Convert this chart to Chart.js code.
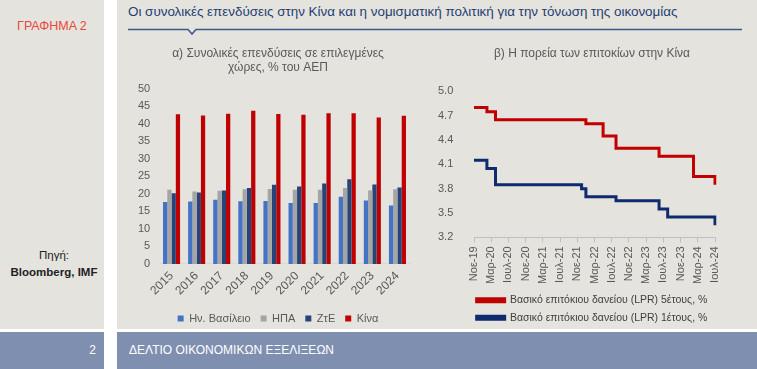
<!DOCTYPE html>
<html>
<head>
<meta charset="utf-8">
<script src="https://cdn.jsdelivr.net/npm/chart.js@4"></script>
<style>
  body { margin: 0; width: 757px; height: 369px; background: #fff; position: relative; overflow: hidden; font-family: "Liberation Sans", Arial, sans-serif; }
  .panel { position: absolute; background: #e5e3de; }
  .foot { position: absolute; background: #7f8fb0; color: #fff; font-size: 12px; line-height: 37px; }
  .box { position: absolute; }
</style>
</head>
<body>
<div class="panel" style="left:0;top:0;width:104px;height:329px"></div>
<div class="panel" style="left:117px;top:0;width:640px;height:329px"></div>
<div style="position:absolute;left:17px;top:19px;color:#e8473b;font-size:12.5px;">ΓΡΑΦΗΜΑ 2</div>
<div style="position:absolute;left:128px;top:4px;color:#1f3f73;font-size:13.4px;">Οι συνολικές επενδύσεις στην Κίνα και η νομισματική πολιτική για την τόνωση της οικονομίας</div>
<svg style="position:absolute;left:0;top:0" width="757" height="40">
  <polyline points="128,29.5 188,29.5 192,34 196,29.5 742,29.5" fill="none" stroke="#3a5a8c" stroke-width="1.5"/>
</svg>
<div style="position:absolute;left:0;top:247px;width:108px;text-align:center;font-size:11.5px;color:#222;line-height:17px;">Πηγή:<br><b style="font-weight:600">Bloomberg, IMF</b></div>
<div class="foot" style="left:0;top:332px;width:104px;height:37px;text-align:right;"><span style="padding-right:8px">2</span></div>
<div class="foot" style="left:117px;top:332px;width:640px;height:37px;"><span style="padding-left:12px">ΔΕΛΤΙΟ ΟΙΚΟΝΟΜΙΚΩΝ ΕΞΕΛΙΞΕΩΝ</span></div>

<div class="box" style="left:124px;top:46px;width:306px;height:288px"><canvas id="invest"></canvas></div>
<div class="box" style="left:430px;top:46px;width:310px;height:287px"><canvas id="rates"></canvas></div>

<script>
const years = ['2015', '2016', '2017', '2018', '2019', '2020', '2021', '2022', '2023', '2024'];
const uk = [17.7, 17.8, 18.3, 17.9, 18.0, 17.4, 17.4, 19.2, 18.1, 16.7];
const usa = [21.2, 20.7, 20.9, 21.3, 21.4, 21.2, 21.2, 21.7, 21.0, 21.3];
const euroArea = [20.2, 20.4, 21.0, 21.7, 22.6, 22.1, 23.0, 24.2, 22.7, 21.8];
const china = [42.7, 42.4, 42.9, 43.7, 42.8, 42.6, 43.0, 43.0, 41.8, 42.3];

const months = [
  'Νοε-19', 'Δεκ-19',
  'Ιαν-20', 'Φεβ-20', 'Μαρ-20', 'Απρ-20', 'Μαϊ-20', 'Ιουν-20', 'Ιουλ-20', 'Αυγ-20', 'Σεπ-20', 'Οκτ-20', 'Νοε-20', 'Δεκ-20',
  'Ιαν-21', 'Φεβ-21', 'Μαρ-21', 'Απρ-21', 'Μαϊ-21', 'Ιουν-21', 'Ιουλ-21', 'Αυγ-21', 'Σεπ-21', 'Οκτ-21', 'Νοε-21', 'Δεκ-21',
  'Ιαν-22', 'Φεβ-22', 'Μαρ-22', 'Απρ-22', 'Μαϊ-22', 'Ιουν-22', 'Ιουλ-22', 'Αυγ-22', 'Σεπ-22', 'Οκτ-22', 'Νοε-22', 'Δεκ-22',
  'Ιαν-23', 'Φεβ-23', 'Μαρ-23', 'Απρ-23', 'Μαϊ-23', 'Ιουν-23', 'Ιουλ-23', 'Αυγ-23', 'Σεπ-23', 'Οκτ-23', 'Νοε-23', 'Δεκ-23',
  'Ιαν-24', 'Φεβ-24', 'Μαρ-24', 'Απρ-24', 'Μαϊ-24', 'Ιουν-24', 'Ιουλ-24'
];
const lpr5y = [
  4.80, 4.80,
  4.80, 4.75, 4.75, 4.65, 4.65, 4.65, 4.65, 4.65, 4.65, 4.65, 4.65, 4.65,
  4.65, 4.65, 4.65, 4.65, 4.65, 4.65, 4.65, 4.65, 4.65, 4.65, 4.65, 4.65,
  4.60, 4.60, 4.60, 4.60, 4.45, 4.45, 4.45, 4.30, 4.30, 4.30, 4.30, 4.30,
  4.30, 4.30, 4.30, 4.30, 4.30, 4.20, 4.20, 4.20, 4.20, 4.20, 4.20, 4.20,
  4.20, 3.95, 3.95, 3.95, 3.95, 3.95, 3.85
];
const lpr1y = [
  4.15, 4.15,
  4.15, 4.05, 4.05, 3.85, 3.85, 3.85, 3.85, 3.85, 3.85, 3.85, 3.85, 3.85,
  3.85, 3.85, 3.85, 3.85, 3.85, 3.85, 3.85, 3.85, 3.85, 3.85, 3.85, 3.80,
  3.70, 3.70, 3.70, 3.70, 3.70, 3.70, 3.70, 3.65, 3.65, 3.65, 3.65, 3.65,
  3.65, 3.65, 3.65, 3.65, 3.65, 3.55, 3.55, 3.45, 3.45, 3.45, 3.45, 3.45,
  3.45, 3.45, 3.45, 3.45, 3.45, 3.45, 3.35
];

const tickFont = { family: '"Liberation Sans", Arial, sans-serif', size: 11 };
const grey = '#595959';

new Chart(document.getElementById('invest'), {
  type: 'bar',
  data: {
    labels: years,
    datasets: [
      { label: 'Ην. Βασίλειο', data: uk, backgroundColor: '#4472c4' },
      { label: 'ΗΠΑ', data: usa, backgroundColor: '#a5a5a5' },
      { label: 'ΖτΕ', data: euroArea, backgroundColor: '#264478' },
      { label: 'Κίνα', data: china, backgroundColor: '#c00000' }
    ]
  },
  options: {
    responsive: true,
    maintainAspectRatio: false,
    animation: false,
    datasets: { bar: { categoryPercentage: 0.68, barPercentage: 1 } },
    layout: { padding: { left: 22, right: 20, bottom: 0 } },
    plugins: {
      title: {
        display: true,
        text: ['α) Συνολικές επενδύσεις σε επιλεγμένες', 'χώρες, % του ΑΕΠ'],
        color: grey,
        font: { family: tickFont.family, size: 12, weight: 'normal' },
        padding: { top: 0, bottom: 14 }
      },
      legend: {
        position: 'bottom',
        labels: { boxWidth: 6, boxHeight: 6, color: grey, font: tickFont, padding: 10 }
      },
      tooltip: { enabled: false }
    },
    scales: {
      x: {
        grid: { display: false, drawTicks: false },
        border: { color: '#d9d9d9' },
        ticks: { color: grey, font: { family: tickFont.family, size: 12 }, minRotation: 45, maxRotation: 45, padding: 5 }
      },
      y: {
        min: 0, max: 50,
        grid: { display: false, drawTicks: false },
        border: { display: false },
        // labels sit left of the plot, outside the narrow axis box
        ticks: { stepSize: 5, color: grey, font: tickFont, mirror: true, crossAlign: 'far', padding: -21 },
        afterFit: s => { s.width = 13; }
      }
    }
  }
});

new Chart(document.getElementById('rates'), {
  type: 'line',
  data: {
    labels: months,
    datasets: [
      { label: 'Βασικό επιτόκιου δανείου (LPR) 5έτους, %', data: lpr5y, borderColor: '#c00000', backgroundColor: '#c00000', borderWidth: 3, stepped: true, pointRadius: 0 },
      { label: 'Βασικό επιτόκιου δανείου (LPR) 1έτους, %', data: lpr1y, borderColor: '#0f2a6e', backgroundColor: '#0f2a6e', borderWidth: 3, stepped: true, pointRadius: 0 }
    ]
  },
  options: {
    responsive: true,
    maintainAspectRatio: false,
    animation: false,
    layout: { padding: { left: 39, right: 25, bottom: 0 } },
    plugins: {
      title: {
        display: true,
        text: 'β) Η πορεία των επιτοκίων στην Κίνα',
        color: grey,
        font: { family: tickFont.family, size: 12, weight: 'normal' },
        padding: { top: 0, bottom: 31 }
      },
      legend: {
        position: 'bottom',
        labels: { boxWidth: 28, boxHeight: 3, color: '#404040', font: { family: tickFont.family, size: 10.5 }, padding: 7 }
      },
      tooltip: { enabled: false }
    },
    scales: {
      x: {
        offset: false,
        grid: { drawOnChartArea: false, tickLength: 5, tickColor: '#bfbfbf' },
        border: { color: '#bfbfbf' },
        ticks: {
          color: grey, font: tickFont, autoSkip: false, minRotation: 90, maxRotation: 90, padding: 4,
          callback: (v, i) => (i % 4 === 0 ? months[i] : null)
        }
      },
      y: {
        min: 3.2, max: 5.0,
        grid: { display: false, drawTicks: false },
        border: { display: false },
        ticks: { stepSize: 0.3, color: grey, font: tickFont, mirror: true, crossAlign: 'far', padding: -36, callback: v => v.toFixed(1) },
        afterFit: s => { s.width = 5; }
      }
    }
  }
});
</script>
</body>
</html>
